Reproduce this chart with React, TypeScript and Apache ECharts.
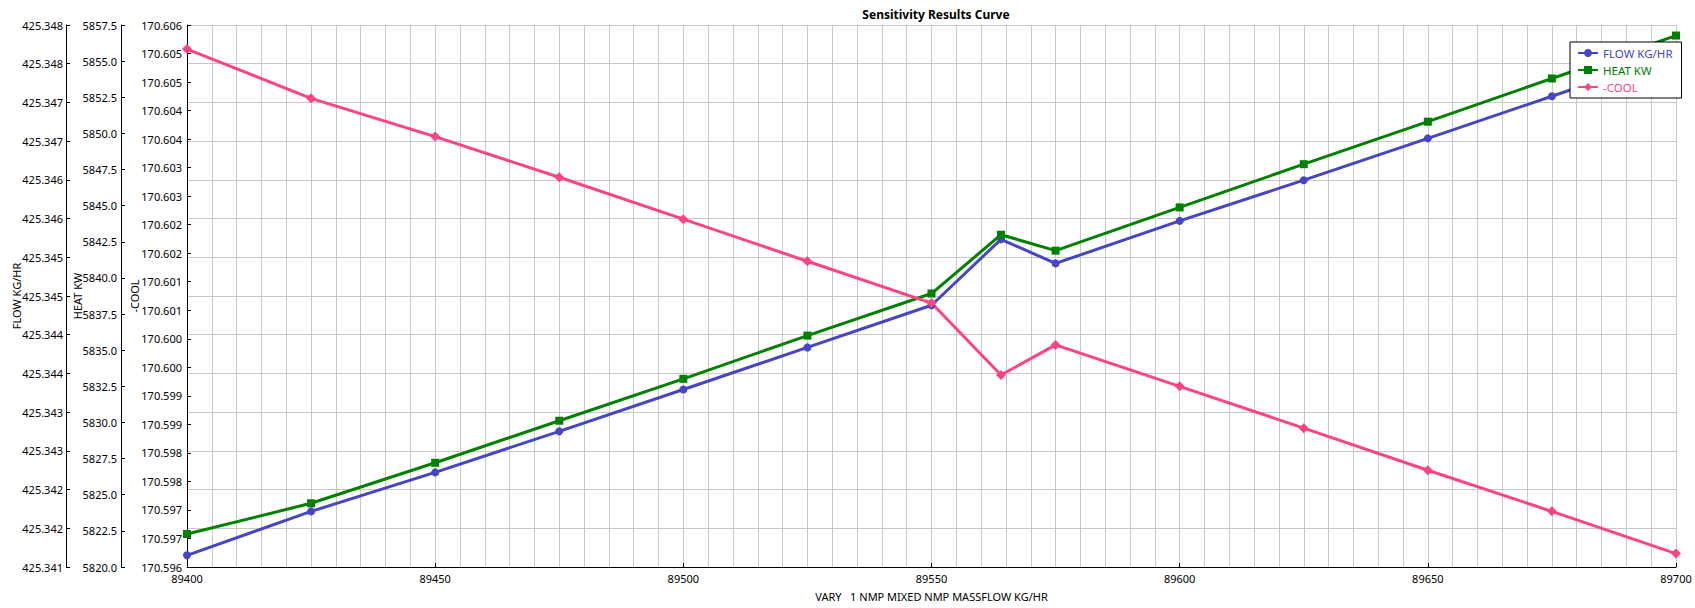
import React, { useEffect, useRef } from "react";
import * as echarts from "echarts";

const X_VALUES = [89400, 89425, 89450, 89475, 89500, 89525, 89550, 89564, 89575, 89600, 89625, 89650, 89675, 89700];
const FLOW = [425.341151, 425.341718, 425.342222, 425.342752, 425.343293, 425.343836, 425.344381, 425.345232, 425.344921, 425.34547, 425.345996, 425.346536, 425.34708, 425.347625];
const HEAT = [5822.28, 5824.41, 5827.21, 5830.12, 5833.02, 5836.01, 5838.92, 5842.99, 5841.89, 5844.88, 5847.87, 5850.81, 5853.8, 5856.77];
const COOL = [170.605441, 170.604543, 170.603846, 170.603104, 170.602341, 170.601573, 170.600811, 170.599499, 170.600049, 170.599293, 170.598531, 170.597763, 170.597014, 170.596245];

const SERIES_NAMES = ["FLOW KG/HR", "HEAT KW", "-COOL"];
const COLORS = ["#4545c8", "#008000", "#ff4383"];

const FONT = "Noto Sans";

export default function App() {
  const ref = useRef<HTMLDivElement>(null);
  useEffect(() => {
    if (!ref.current) return;
    const chart = echarts.init(ref.current, null, { renderer: "svg" });
    const pair = (ys: number[]) => X_VALUES.map((x, i) => [x, ys[i]]);
    const axisCommon = (offset: number) => ({
      type: "value",
      position: "left",
      offset,
      nameLocation: "middle",
      nameRotate: 90,
      nameMoveOverlap: false,
      nameTextStyle: { color: "#000", fontSize: 11, fontFamily: FONT },
      axisLine: { show: true, lineStyle: { color: "#000", width: 1 } },
      axisTick: { show: true, inside: true, length: 4, lineStyle: { color: "#000" } },
    });
    chart.setOption({
      animation: false,
      backgroundColor: "#fff",
      title: {
        text: "Sensitivity Results Curve",
        left: 931,
        textAlign: "center",
        top: 3,
        textStyle: { fontSize: 12, fontWeight: "bold", color: "#000", fontFamily: FONT },
      },
      grid: { left: 187, right: 19, top: 25, bottom: 41, containLabel: false, outerBoundsMode: "none" },
      legend: {
        orient: "vertical",
        left: 1570,
        top: 42,
        padding: [5, 9, 5, 7],
        itemGap: 5,
        itemWidth: 20,
        itemHeight: 10,
        backgroundColor: "#fff",
        borderColor: "#000",
        borderWidth: 1,
        borderRadius: 0,
        textStyle: { fontSize: 11.5, fontFamily: FONT },
        data: SERIES_NAMES.map((n, i) => ({ name: n, textStyle: { color: COLORS[i] } })),
      },
      xAxis: {
        type: "value",
        min: 89400,
        max: 89700,
        interval: 50,
        name: "VARY   1 NMP MIXED NMP MASSFLOW KG/HR",
        nameLocation: "middle",
        nameGap: 24,
        nameMoveOverlap: false,
        nameTextStyle: { color: "#000", fontSize: 11, fontFamily: FONT },
        axisLine: { show: true, onZero: false, lineStyle: { color: "#000", width: 1 } },
        axisTick: { show: true, inside: true, length: 4, lineStyle: { color: "#000" } },
        axisLabel: {
          color: "#000",
          fontSize: 11,
          fontFamily: FONT,
          margin: 6,
          formatter: (v: number) => String(v),
        },
        splitLine: { show: true, lineStyle: { color: "#c8c8c8", width: 1 } },
        minorTick: { show: false, splitNumber: 10 },
        minorSplitLine: { show: true, lineStyle: { color: "#c8c8c8", width: 1 } },
      },
      yAxis: [
        {
          ...axisCommon(121),
          name: SERIES_NAMES[0],
          nameGap: 44,
          min: 425.341,
          max: 425.348,
          interval: 0.0005,
          splitLine: { show: true, lineStyle: { color: "#c8c8c8", width: 1 } },
          axisLabel: {
            color: "#000",
            fontSize: 11,
            fontFamily: FONT,
            margin: 3,
            formatter: (v: number) => (Math.round(v * 1000 + 1e-6) / 1000).toFixed(3),
          },
        },
        {
          ...axisCommon(66),
          name: SERIES_NAMES[1],
          nameGap: 38,
          min: 5820,
          max: 5857.5,
          interval: 2.5,
          splitLine: { show: false },
          axisLabel: {
            color: "#000",
            fontSize: 11,
            fontFamily: FONT,
            margin: 4,
            formatter: (v: number) => v.toFixed(1),
          },
        },
        {
          ...axisCommon(0),
          name: SERIES_NAMES[2],
          nameGap: 47,
          min: 170.596,
          max: 170.60588,
          interval: 0.00052,
          splitLine: { show: false },
          axisLabel: {
            color: "#000",
            fontSize: 11,
            fontFamily: FONT,
            margin: 5,
            formatter: (v: number) => v.toFixed(3),
          },
        },
      ],
      series: [
        {
          name: SERIES_NAMES[0],
          type: "line",
          yAxisIndex: 0,
          data: pair(FLOW),
          symbol: "circle",
          symbolSize: 8,
          lineStyle: { color: COLORS[0], width: 3 },
          itemStyle: { color: COLORS[0] },
        },
        {
          name: SERIES_NAMES[1],
          type: "line",
          yAxisIndex: 1,
          data: pair(HEAT),
          symbol: "rect",
          symbolSize: 8,
          lineStyle: { color: COLORS[1], width: 3 },
          itemStyle: { color: COLORS[1] },
        },
        {
          name: SERIES_NAMES[2],
          type: "line",
          yAxisIndex: 2,
          data: pair(COOL),
          symbol: "diamond",
          symbolSize: 10,
          lineStyle: { color: COLORS[2], width: 3 },
          itemStyle: { color: COLORS[2] },
        },
      ],
    });
    return () => chart.dispose();
  }, []);
  return (
    <div
      ref={ref}
      style={{ position: "absolute", left: 0, top: 0, width: 1695, height: 608 }}
    />
  );
}
